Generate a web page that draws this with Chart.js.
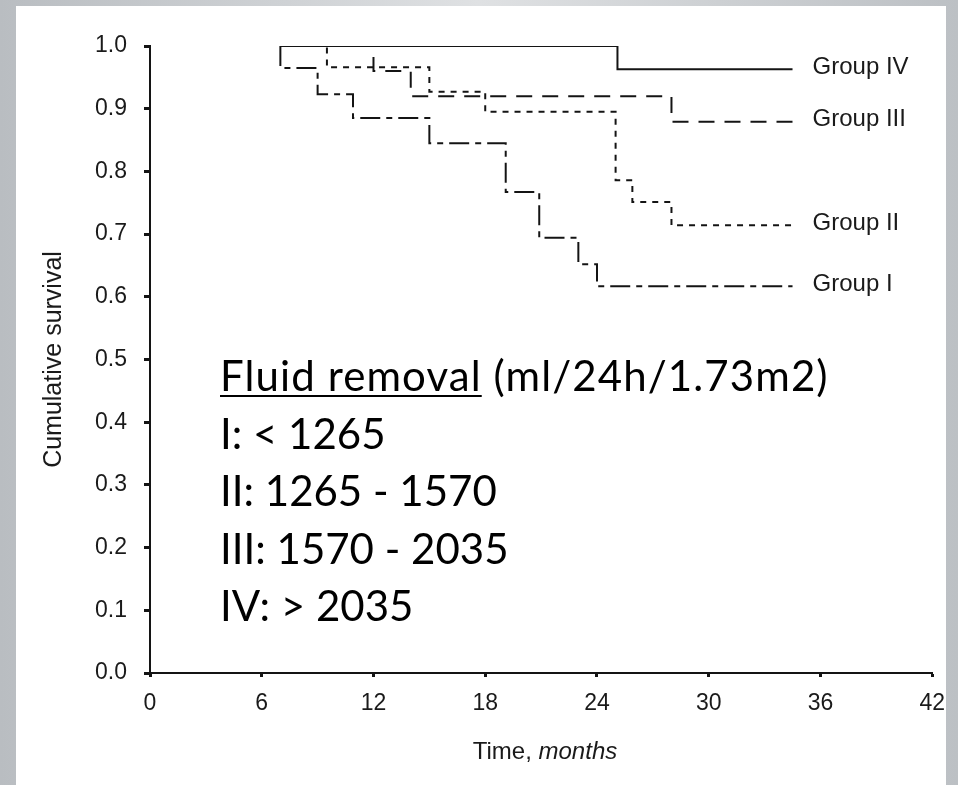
<!DOCTYPE html>
<html>
<head>
<meta charset="utf-8">
<script src="https://cdn.jsdelivr.net/npm/chart.js@4.4.1/dist/chart.umd.min.js"></script>
<style>
  html, body { margin: 0; padding: 0; }
  body {
    width: 958px; height: 785px; position: relative; overflow: hidden;
    background: linear-gradient(90deg, #b9bdc1 0%, #cfd2d5 30%, #dfe1e3 50%, #cdd0d3 75%, #bcc0c4 100%);
  }
  #panel { position: absolute; left: 16px; top: 6px; width: 930px; height: 779px; background: #fff; }
  #wrap { position: absolute; left: 0; top: 0; width: 958px; height: 785px; }
  #xtitle {
    position: absolute; left: 395px; top: 739px; width: 300px; text-align: center;
    font: 24px/24px "Liberation Sans", Arial, sans-serif; color: #1a1a1a;
  }
  #note {
    position: absolute; left: 220px; top: 347px;
    font: 42px/57.5px Lato, sans-serif; color: #000; white-space: nowrap;
  }
  #note .head { letter-spacing: 1.1px; }
  #note u { text-decoration-thickness: 2px; text-underline-offset: 4px; }
</style>
</head>
<body>
<div id="panel"></div>
<div id="wrap"><canvas id="km" width="958" height="785"></canvas></div>
<div id="xtitle">Time, <i>months</i></div>
<div id="note">
  <div class="head"><u>Fluid removal</u> (ml/24h/1.73m2)</div>
  <div>I: &lt; 1265</div>
  <div>II: 1265 - 1570</div>
  <div>III: 1570 - 2035</div>
  <div>IV: &gt; 2035</div>
</div>
<script>
// survival steps (time in months, cumulative survival)
const timeIV = [7, 25.1, 34.5];
const survIV = [1.0, 0.963, 0.963];
const timeIII = [7, 12, 14, 28, 34.5];
const survIII = [1.0, 0.96, 0.92, 0.879, 0.879];
const timeII = [7, 9.5, 15, 18, 25, 25.9, 28, 34.5];
const survII = [1.0, 0.966, 0.927, 0.895, 0.786, 0.751, 0.714, 0.714];
const timeI = [7, 7, 9, 10.9, 15, 19.1, 20.9, 23, 24, 34.5];
const survI = [1.0, 0.965, 0.923, 0.885, 0.845, 0.767, 0.694, 0.652, 0.617, 0.617];

const groupNames = ['Group IV', 'Group III', 'Group II', 'Group I'];
const xTicks = [0, 6, 12, 18, 24, 30, 36, 42];

function toPoints(t, s) {
    return t.map((v, i) => ({ x: v, y: s[i] }));
}

const ink = '#141414';
const textInk = '#1a1a1a';

function curve(label, t, s, dash) {
    return {
        label: label,
        data: toPoints(t, s),
        showLine: true,
        stepped: true,
        borderColor: ink,
        borderWidth: 2,
        borderDash: dash,
        pointRadius: 0,
        fill: false
    };
}

const groupLabels = {
    id: 'groupLabels',
    afterDatasetsDraw(chart) {
        const { ctx, scales: { x, y } } = chart;
        ctx.save();
        ctx.font = '24px "Liberation Sans", Arial, sans-serif';
        ctx.fillStyle = textInk;
        ctx.textBaseline = 'middle';
        chart.data.datasets.forEach(ds => {
            const last = ds.data[ds.data.length - 1];
            ctx.fillText(ds.label, x.getPixelForValue(last.x) + 20, y.getPixelForValue(last.y) - 2);
        });
        ctx.restore();
    }
};

new Chart(document.getElementById('km'), {
    type: 'scatter',
    data: {
        datasets: [
            curve(groupNames[0], timeIV, survIV, []),
            curve(groupNames[1], timeIII, survIII, [16, 10]),
            curve(groupNames[2], timeII, survII, [6, 6]),
            curve(groupNames[3], timeI, survI, [20, 6, 6, 6])
        ]
    },
    options: {
        responsive: false,
        devicePixelRatio: 1,
        animation: false,
        layout: { padding: { left: 0, right: 21, top: 46, bottom: 0 } },
        plugins: { legend: { display: false }, tooltip: { enabled: false } },
        scales: {
            x: {
                type: 'linear',
                min: 0,
                max: 42,
                afterBuildTicks: scale => { scale.ticks = xTicks.map(v => ({ value: v })); },
                afterFit: scale => { scale.height = 112; },
                border: { display: true, color: ink, width: 2 },
                grid: { drawOnChartArea: false, drawTicks: true, tickLength: 4, tickWidth: 3, tickColor: ink },
                ticks: {
                    color: textInk,
                    padding: 13,
                    maxRotation: 0,
                    font: { family: '"Liberation Sans", Arial, sans-serif', size: 23 }
                }
            },
            y: {
                type: 'linear',
                min: 0,
                max: 1,
                afterFit: scale => { scale.width = 150; },
                border: { display: true, color: ink, width: 2 },
                grid: { drawOnChartArea: false, drawTicks: true, tickLength: 6, tickWidth: 3, tickColor: ink },
                ticks: {
                    stepSize: 0.1,
                    color: textInk,
                    padding: 17,
                    callback: v => v.toFixed(1),
                    font: { family: '"Liberation Sans", Arial, sans-serif', size: 23 }
                },
                title: {
                    display: true,
                    text: 'Cumulative survival',
                    color: textInk,
                    padding: { top: 39, bottom: 0 },
                    font: { family: '"Liberation Sans", Arial, sans-serif', size: 25, weight: 'normal' }
                }
            }
        }
    },
    plugins: [groupLabels]
});
</script>
</body>
</html>
